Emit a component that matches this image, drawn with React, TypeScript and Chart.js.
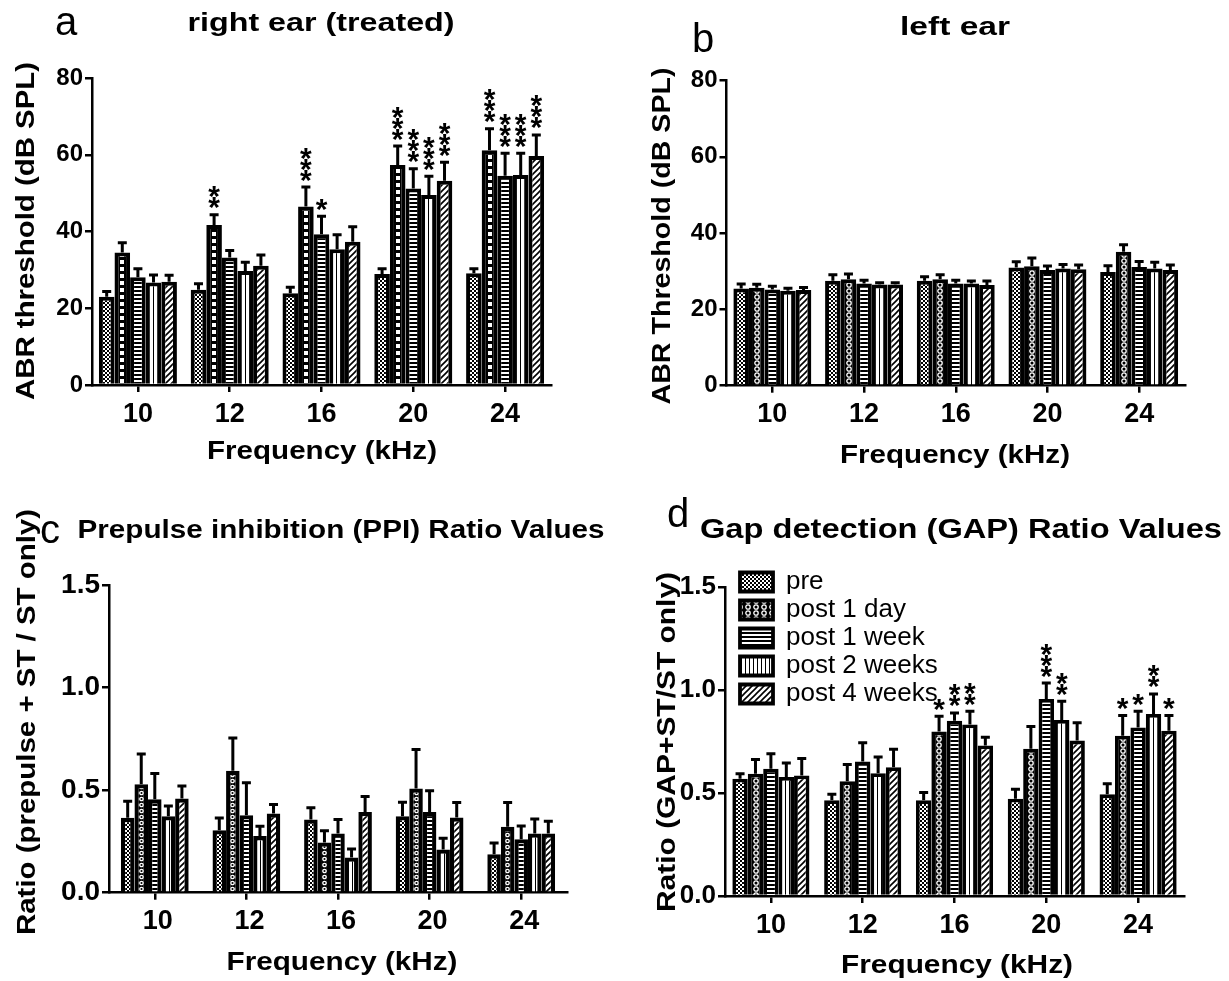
import React, { useEffect, useRef } from "react";
import { Chart, registerables } from "chart.js";

Chart.register(...registerables);

const FONT = "'Liberation Sans', Arial, Helvetica, sans-serif";

// ---------------- data ----------------
const FREQUENCIES = ["10", "12", "16", "20", "24"];
const SERIES = ["pre", "post 1 day", "post 1 week", "post 2 weeks", "post 4 weeks"];

// a: right ear (treated) — ABR threshold (dB SPL), mean and SEM
const RIGHT_PRE = [23.0, 24.8, 23.9, 28.9, 29.1];
const RIGHT_POST_1D = [34.5, 41.7, 46.5, 57.3, 61.2];
const RIGHT_POST_1W = [28.1, 33.2, 39.3, 51.2, 54.5];
const RIGHT_POST_2W = [26.7, 29.7, 35.4, 49.5, 54.7];
const RIGHT_POST_4W = [26.9, 31.1, 37.3, 53.2, 59.7];
const RIGHT_SEM_PRE = [1.5, 1.7, 1.7, 1.5, 1.3];
const RIGHT_SEM_1D = [2.7, 2.8, 5.2, 5.1, 5.7];
const RIGHT_SEM_1W = [2.3, 2.0, 4.8, 5.3, 6.0];
const RIGHT_SEM_2W = [2.1, 2.4, 3.9, 5.0, 5.8];
const RIGHT_SEM_4W = [1.8, 2.9, 4.1, 5.0, 5.6];
const RIGHT_STARS_PRE = [0, 0, 0, 0, 0];
const RIGHT_STARS_1D = [0, 2, 3, 3, 3];
const RIGHT_STARS_1W = [0, 0, 1, 3, 3];
const RIGHT_STARS_2W = [0, 0, 0, 3, 3];
const RIGHT_STARS_4W = [0, 0, 0, 3, 3];

// b: left ear — ABR threshold (dB SPL)
const LEFT_PRE = [25.5, 27.5, 27.5, 31.0, 29.8];
const LEFT_POST_1D = [25.7, 27.9, 27.9, 31.3, 35.1];
const LEFT_POST_1W = [25.2, 26.8, 26.8, 30.3, 31.1];
const LEFT_POST_2W = [24.9, 26.5, 26.8, 30.7, 30.7];
const LEFT_POST_4W = [25.1, 26.5, 26.4, 30.5, 30.3];
const LEFT_SEM_PRE = [1.3, 1.7, 1.2, 1.6, 1.8];
const LEFT_SEM_1D = [1.0, 1.5, 1.3, 2.3, 2.0];
const LEFT_SEM_1W = [1.0, 1.0, 1.0, 1.2, 1.6];
const LEFT_SEM_2W = [0.8, 0.6, 0.8, 1.2, 1.8];
const LEFT_SEM_4W = [0.8, 0.6, 1.2, 1.3, 1.5];
const NO_STARS = [0, 0, 0, 0, 0];

// c: prepulse inhibition ratio
const PPI_PRE = [0.365, 0.305, 0.357, 0.373, 0.187];
const PPI_POST_1D = [0.529, 0.594, 0.245, 0.508, 0.321];
const PPI_POST_1W = [0.455, 0.378, 0.289, 0.394, 0.261];
const PPI_POST_2W = [0.373, 0.276, 0.172, 0.211, 0.289];
const PPI_POST_4W = [0.459, 0.386, 0.394, 0.367, 0.289];
const PPI_SEM_PRE = [0.083, 0.062, 0.059, 0.07, 0.058];
const PPI_SEM_1D = [0.15, 0.163, 0.06, 0.193, 0.121];
const PPI_SEM_1W = [0.129, 0.161, 0.07, 0.106, 0.067];
const PPI_SEM_2W = [0.052, 0.05, 0.044, 0.057, 0.073];
const PPI_SEM_4W = [0.064, 0.046, 0.077, 0.075, 0.062];

// d: gap detection ratio
const GAP_PRE = [0.57, 0.465, 0.465, 0.473, 0.494];
const GAP_POST_1D = [0.594, 0.558, 0.799, 0.715, 0.779];
const GAP_POST_1W = [0.618, 0.653, 0.852, 0.957, 0.819];
const GAP_POST_2W = [0.578, 0.597, 0.833, 0.855, 0.884];
const GAP_POST_4W = [0.586, 0.626, 0.731, 0.755, 0.803];
const GAP_SEM_PRE = [0.027, 0.032, 0.04, 0.048, 0.054];
const GAP_SEM_1D = [0.072, 0.084, 0.077, 0.111, 0.1];
const GAP_SEM_1W = [0.076, 0.094, 0.04, 0.08, 0.081];
const GAP_SEM_2W = [0.071, 0.081, 0.067, 0.094, 0.1];
const GAP_SEM_4W = [0.085, 0.089, 0.043, 0.089, 0.076];
const GAP_STARS_PRE = [0, 0, 0, 0, 0];
const GAP_STARS_1D = [0, 0, 1, 0, 1];
const GAP_STARS_1W = [0, 0, 2, 3, 1];
const GAP_STARS_2W = [0, 0, 2, 2, 2];
const GAP_STARS_4W = [0, 0, 0, 0, 1];

// ---------------- layout ----------------
type TextItem = { text: string; x: number; y: number; w?: number; size: number; bold?: boolean; rot?: boolean };

type PanelDef = {
  left: number; top: number; width: number; height: number;
  area: { left: number; right: number; top: number; bottom: number };
  yMax: number; yStep: number; decimals: number; yTickSize: number;
  catPct: number; barPct: number; borderW: number;
  values: number[][]; errors: number[][]; stars: number[][];
  texts: TextItem[];
  legend?: { left: number; top: number };
  daySquares: boolean;
  labelOffset: number;
};

const Y_AXIS_W = 80;
const X_AXIS_H = 60;

const PANELS: PanelDef[] = [
  {
    left: 0, top: 0, width: 614, height: 490,
    area: { left: 92, right: 551, top: 78, bottom: 385 },
    yMax: 80, yStep: 20, decimals: 0, yTickSize: 24,
    catPct: 0.85, barPct: 1, borderW: 4,
    values: [RIGHT_PRE, RIGHT_POST_1D, RIGHT_POST_1W, RIGHT_POST_2W, RIGHT_POST_4W],
    errors: [RIGHT_SEM_PRE, RIGHT_SEM_1D, RIGHT_SEM_1W, RIGHT_SEM_2W, RIGHT_SEM_4W],
    stars: [RIGHT_STARS_PRE, RIGHT_STARS_1D, RIGHT_STARS_1W, RIGHT_STARS_2W, RIGHT_STARS_4W],
    texts: [
      { text: "a", x: 66, y: 24, size: 40 },
      { text: "right ear (treated)", x: 321, y: 24, w: 267, size: 25, bold: true },
      { text: "ABR threshold (dB SPL)", x: 27, y: 231, w: 338, size: 26, bold: true, rot: true },
      { text: "Frequency (kHz)", x: 322, y: 452, w: 230, size: 26, bold: true },
    ],
    daySquares: true,
    labelOffset: 0,
  },
  {
    left: 614, top: 0, width: 615, height: 490,
    area: { left: 112.5, right: 571, top: 80.5, bottom: 385.7 },
    yMax: 80, yStep: 20, decimals: 0, yTickSize: 24,
    catPct: 0.85, barPct: 1, borderW: 4,
    values: [LEFT_PRE, LEFT_POST_1D, LEFT_POST_1W, LEFT_POST_2W, LEFT_POST_4W],
    errors: [LEFT_SEM_PRE, LEFT_SEM_1D, LEFT_SEM_1W, LEFT_SEM_2W, LEFT_SEM_4W],
    stars: [NO_STARS, NO_STARS, NO_STARS, NO_STARS, NO_STARS],
    texts: [
      { text: "b", x: 89, y: 37, size: 40 },
      { text: "left ear", x: 341, y: 25, w: 110, size: 25, bold: true },
      { text: "ABR Threshold (dB SPL)", x: 49, y: 236, w: 337, size: 26, bold: true, rot: true },
      { text: "Frequency (kHz)", x: 341, y: 456, w: 230, size: 26, bold: true },
    ],
    daySquares: false,
    labelOffset: 0,
  },
  {
    left: 0, top: 490, width: 614, height: 491,
    area: { left: 109, right: 567, top: 95, bottom: 402.7 },
    yMax: 1.5, yStep: 0.5, decimals: 1, yTickSize: 28,
    catPct: 0.74, barPct: 1, borderW: 4.3,
    values: [PPI_PRE, PPI_POST_1D, PPI_POST_1W, PPI_POST_2W, PPI_POST_4W],
    errors: [PPI_SEM_PRE, PPI_SEM_1D, PPI_SEM_1W, PPI_SEM_2W, PPI_SEM_4W],
    stars: [NO_STARS, NO_STARS, NO_STARS, NO_STARS, NO_STARS],
    texts: [
      { text: "c", x: 50, y: 42, size: 40 },
      { text: "Prepulse inhibition (PPI) Ratio Values", x: 341, y: 41, w: 527, size: 25, bold: true },
      { text: "Ratio (prepulse + ST / ST only)", x: 28, y: 232, w: 426, size: 26, bold: true, rot: true },
      { text: "Frequency (kHz)", x: 342, y: 473, w: 231, size: 26, bold: true },
    ],
    daySquares: false,
    labelOffset: 3,
  },
  {
    left: 614, top: 490, width: 615, height: 491,
    area: { left: 111, right: 570, top: 97.3, bottom: 406 },
    yMax: 1.5, yStep: 0.5, decimals: 1, yTickSize: 26,
    catPct: 0.84, barPct: 1, borderW: 3.8,
    values: [GAP_PRE, GAP_POST_1D, GAP_POST_1W, GAP_POST_2W, GAP_POST_4W],
    errors: [GAP_SEM_PRE, GAP_SEM_1D, GAP_SEM_1W, GAP_SEM_2W, GAP_SEM_4W],
    stars: [GAP_STARS_PRE, GAP_STARS_1D, GAP_STARS_1W, GAP_STARS_2W, GAP_STARS_4W],
    texts: [
      { text: "d", x: 64, y: 22, size: 40 },
      { text: "Gap detection (GAP) Ratio Values", x: 347, y: 41, w: 522, size: 27, bold: true },
      { text: "Ratio (GAP+ST/ST only)", x: 54, y: 252, w: 340, size: 26, bold: true, rot: true },
      { text: "Frequency (kHz)", x: 343, y: 476, w: 232, size: 26, bold: true },
    ],
    legend: { left: 124, top: 77 },
    daySquares: false,
    labelOffset: 0,
  },
];

// ---------------- patterns ----------------
function makeTile(kind: number, interior: number, squares: boolean): HTMLCanvasElement {
  const c = document.createElement("canvas");
  if (kind === 0) {
    c.width = 4; c.height = 4;
    const g = c.getContext("2d")!;
    g.fillStyle = "#000"; g.fillRect(0, 0, 4, 4);
    g.fillStyle = "#fff"; g.fillRect(0, 0, 2, 2); g.fillRect(2, 2, 2, 2);
  } else if (kind === 1) {
    const w = Math.max(4, Math.round(interior));
    const h = squares ? 7 : 6;
    c.width = w; c.height = h;
    const g = c.getContext("2d")!;
    g.fillStyle = "#000"; g.fillRect(0, 0, w, h);
    if (squares) {
      g.fillStyle = "#fff"; g.fillRect(Math.round(w / 2 - 2), 1, 4, 4);
    } else {
      g.strokeStyle = "#fff"; g.lineWidth = 1.3;
      g.beginPath(); g.arc(w / 2, h / 2, Math.min(2.2, w / 2 - 0.8), 0, Math.PI * 2); g.stroke();
    }
  } else if (kind === 2) {
    c.width = 1; c.height = 4;
    const g = c.getContext("2d")!;
    g.fillStyle = "#fff"; g.fillRect(0, 0, 1, 2);
    g.fillStyle = "#000"; g.fillRect(0, 2, 1, 2);
  } else if (kind === 3) {
    c.width = 4; c.height = 1;
    const g = c.getContext("2d")!;
    g.fillStyle = "#fff"; g.fillRect(0, 0, 3, 1);
    g.fillStyle = "#000"; g.fillRect(3, 0, 1, 1);
  } else {
    c.width = 6; c.height = 6;
    const g = c.getContext("2d")!;
    g.fillStyle = "#fff"; g.fillRect(0, 0, 6, 6);
    g.strokeStyle = "#000"; g.lineWidth = 1.6;
    g.beginPath();
    g.moveTo(-1, 7); g.lineTo(7, -1);
    g.moveTo(-4, 4); g.lineTo(4, -4);
    g.moveTo(2, 10); g.lineTo(10, 2);
    g.stroke();
  }
  return c;
}

function bgFor(tile: HTMLCanvasElement, dsIndex: number, def: PanelDef) {
  return (ctx: any) => {
    const chart = ctx.chart;
    const pat = chart.ctx.createPattern(tile, "repeat");
    if (!pat) return "#000";
    if (ctx.type !== "data") return pat;
    const xs = chart.scales && chart.scales.x;
    if (!xs || !xs.width) return pat;
    const center = xs.getPixelForValue(ctx.dataIndex);
    const catW = xs.width / FREQUENCIES.length;
    const groupW = catW * def.catPct;
    const slot = groupW / SERIES.length;
    const barW = slot * def.barPct;
    const left = center - groupW / 2 + dsIndex * slot + (slot - barW) / 2 + def.borderW;
    pat.setTransform(new DOMMatrix([1, 0, 0, 1, Math.round(left), 0]));
    return pat;
  };
}

// ---------------- drawing helpers ----------------
function drawText(ctx: CanvasRenderingContext2D, t: TextItem) {
  ctx.save();
  ctx.font = `${t.bold ? "bold " : ""}${t.size}px ${FONT}`;
  ctx.fillStyle = "#000";
  ctx.textAlign = "center";
  ctx.textBaseline = "alphabetic";
  const m = ctx.measureText(t.text);
  const asc = m.actualBoundingBoxAscent;
  const desc = m.actualBoundingBoxDescent;
  ctx.translate(t.x, t.y);
  if (t.rot) ctx.rotate(-Math.PI / 2);
  if (t.w) ctx.scale(t.w / m.width, 1);
  ctx.fillText(t.text, 0, (asc - desc) / 2);
  ctx.restore();
}

function decorPlugin(def: PanelDef) {
  return {
    id: "decor",
    beforeDraw(chart: any) {
      if (def.legend && chart.legend) {
        chart.legend.left = def.legend.left;
        chart.legend.top = def.legend.top;
      }
    },
    afterDatasetsDraw(chart: any) {
      const ctx: CanvasRenderingContext2D = chart.ctx;
      const ys = chart.scales.y;
      ctx.save();
      ctx.font = `bold 30px ${FONT}`;
      const sm = ctx.measureText("*");
      const sAsc = sm.actualBoundingBoxAscent;
      const sDesc = sm.actualBoundingBoxDescent;
      chart.data.datasets.forEach((ds: any, di: number) => {
        const meta = chart.getDatasetMeta(di);
        meta.data.forEach((bar: any, i: number) => {
          const v = ds.data[i];
          const e = ds.errors[i];
          const yTop = ys.getPixelForValue(v + e);
          ctx.strokeStyle = "#000";
          ctx.lineWidth = 3;
          ctx.lineCap = "butt";
          ctx.beginPath();
          ctx.moveTo(bar.x, bar.y);
          ctx.lineTo(bar.x, yTop);
          ctx.moveTo(bar.x - 4.5, yTop + 0.5);
          ctx.lineTo(bar.x + 4.5, yTop + 0.5);
          ctx.stroke();
          const n = ds.stars[i];
          ctx.fillStyle = "#000";
          ctx.textAlign = "center";
          ctx.textBaseline = "alphabetic";
          for (let k = 0; k < n; k++) {
            const cy = yTop - 11 - k * 11;
            ctx.fillText("*", bar.x, cy + (sAsc - sDesc) / 2);
          }
        });
      });
      ctx.restore();
    },
    afterDraw(chart: any) {
      const ctx: CanvasRenderingContext2D = chart.ctx;
      def.texts.forEach((t) => drawText(ctx, t));
    },
  };
}

function buildConfig(def: PanelDef): any {
  const padding = {
    left: def.area.left - Y_AXIS_W,
    right: def.width - def.area.right,
    top: def.area.top,
    bottom: def.height - def.area.bottom - X_AXIS_H,
  };
  const interior =
    ((def.catPct * (def.area.right - def.area.left)) / FREQUENCIES.length / SERIES.length) * def.barPct -
    2 * def.borderW;
  const datasets = SERIES.map((label, i) => ({
    label,
    data: def.values[i],
    errors: def.errors[i],
    stars: def.stars[i],
    backgroundColor: bgFor(makeTile(i, interior, def.daySquares), i, def),
    borderColor: "#000",
    borderWidth: def.borderW,
    categoryPercentage: def.catPct,
    barPercentage: def.barPct,
  }));
  return {
    type: "bar",
    data: { labels: FREQUENCIES, datasets },
    options: {
      responsive: false,
      animation: false,
      events: [],
      layout: { padding },
      plugins: {
        title: { display: false },
        tooltip: { enabled: false },
        legend: def.legend
          ? {
              display: true,
              position: "chartArea",
              align: "start",
              labels: {
                boxWidth: 33,
                boxHeight: 19,
                padding: 2,
                color: "#000",
                font: { family: FONT, size: 26 },
              },
            }
          : { display: false },
      },
      scales: {
        x: {
          offset: true,
          z: 1,
          grid: {
            display: true,
            offset: false,
            drawOnChartArea: false,
            drawTicks: true,
            tickLength: 7,
            color: "#000",
            lineWidth: 2.5,
          },
          border: { display: true, color: "#000", width: 2.5 },
          ticks: {
            color: "#000",
            font: { family: FONT, size: 27, weight: "bold" },
            padding: 6,
            labelOffset: def.labelOffset,
            maxRotation: 0,
            autoSkip: false,
          },
          afterFit: (s: any) => { s.height = X_AXIS_H; },
        },
        y: {
          min: 0,
          max: def.yMax,
          grid: {
            display: true,
            drawOnChartArea: false,
            drawTicks: true,
            tickLength: 7,
            color: "#000",
            lineWidth: 2.5,
          },
          border: { display: true, color: "#000", width: 2.5 },
          ticks: {
            stepSize: def.yStep,
            color: "#000",
            font: { family: FONT, size: def.yTickSize, weight: "bold" },
            padding: 2,
            callback: (v: any) => Number(v).toFixed(def.decimals),
          },
          afterFit: (s: any) => { s.width = Y_AXIS_W; },
        },
      },
    },
    plugins: [decorPlugin(def)],
  };
}

function Panel({ def }: { def: PanelDef }) {
  const ref = useRef<HTMLCanvasElement>(null);
  useEffect(() => {
    const canvas = ref.current;
    if (!canvas) return;
    const chart = new Chart(canvas, buildConfig(def));
    return () => chart.destroy();
  }, [def]);
  return (
    <canvas
      ref={ref}
      width={def.width}
      height={def.height}
      style={{ position: "absolute", left: def.left, top: def.top, width: def.width, height: def.height }}
    />
  );
}

export default function App() {
  return (
    <div style={{ position: "absolute", left: 0, top: 0, width: 1229, height: 981, background: "#fff", overflow: "hidden" }}>
      {PANELS.map((p, i) => (
        <Panel key={i} def={p} />
      ))}
    </div>
  );
}
